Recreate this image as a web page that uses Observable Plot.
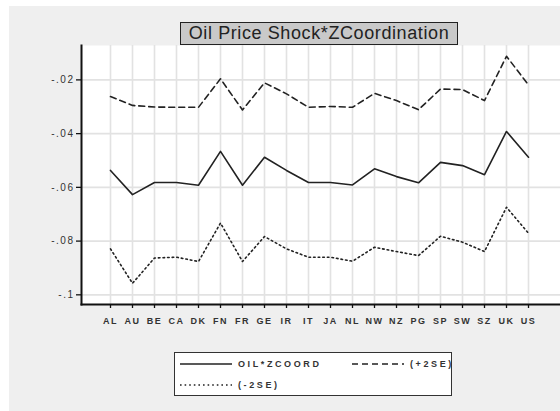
<!DOCTYPE html>
<html>
<head>
<meta charset="utf-8">
<script src="https://cdn.jsdelivr.net/npm/d3@7"></script>
<script src="https://cdn.jsdelivr.net/npm/@observablehq/plot@0.6"></script>
<style>
  html, body { margin:0; padding:0; background:#fff; }
  #wrap { position:relative; width:560px; height:411px; overflow:hidden; font-family:"Liberation Sans", Arial, sans-serif; }
  #panel { position:absolute; left:9px; top:6px; right:0; bottom:0; background:#efefef; }
  #chart { position:absolute; left:0; top:0; }
  #chart svg text { letter-spacing:1.5px; }
  #title { position:absolute; left:180px; top:22px; width:276px; height:21px; background:#c9c9c9; border:1.5px solid #222;
           font-size:18px; line-height:21px; text-align:center; color:#222; letter-spacing:0.6px; white-space:nowrap; }
  #legend { position:absolute; left:174px; top:352px; width:276px; height:42px; border:1.5px solid #333; background:#fff;
            font-size:9px; font-weight:bold; color:#333; letter-spacing:2.6px; }
  .item { position:absolute; display:flex; align-items:center; white-space:nowrap; }
  .item svg { margin-right:6px; }
</style>
</head>
<body>
<div id="wrap">
  <div id="panel"></div>
  <div id="chart"></div>
  <div id="title">Oil Price Shock*ZCoordination</div>
  <div id="legend"></div>
</div>
<script>
const countries = ["AL","AU","BE","CA","DK","FN","FR","GE","IR","IT","JA","NL","NW","NZ","PG","SP","SW","SZ","UK","US"];
const coef  = [-0.0537,-0.0627,-0.0582,-0.0582,-0.0592,-0.0466,-0.0592,-0.0488,-0.0537,-0.0582,-0.0582,-0.0591,-0.0531,-0.0560,-0.0583,-0.0507,-0.0519,-0.0553,-0.0392,-0.0488];
const upper = [-0.0262,-0.0295,-0.0301,-0.0302,-0.0302,-0.0196,-0.0312,-0.0211,-0.0252,-0.0302,-0.0299,-0.0302,-0.0250,-0.0277,-0.0311,-0.0234,-0.0236,-0.0277,-0.0112,-0.0219];
const lower = [-0.0829,-0.0957,-0.0863,-0.0860,-0.0876,-0.0733,-0.0876,-0.0783,-0.0829,-0.0860,-0.0860,-0.0875,-0.0823,-0.0839,-0.0854,-0.0782,-0.0804,-0.0839,-0.0674,-0.0771];
const yTicks = [-0.1,-0.08,-0.06,-0.04,-0.02];
const yLabels = ["-.1","-.08","-.06","-.04","-.02"];
const seriesNames = ["OIL*ZCOORD","(+2SE)","(-2SE)"];

const rows = countries.map((c,i)=>({c, coef:coef[i], upper:upper[i], lower:lower[i]}));
const ink = "#222";

const chart = Plot.plot({
  width:560, height:411,
  marginLeft:81, marginRight:0, marginTop:45, marginBottom:107,
  style:{background:"transparent", fontFamily:"Liberation Sans, Arial, sans-serif", overflow:"visible"},
  x:{type:"point", domain:countries, range:[91,547.3], label:null},
  y:{domain:[-0.1036,-0.0072], label:null},
  marks:[
    Plot.frame({fill:"white", stroke:"none"}),
    Plot.gridX(countries, {stroke:"#e2e2e2", strokeOpacity:1, strokeWidth:1.6}),
    Plot.gridY(yTicks, {stroke:"#e2e2e2", strokeOpacity:1, strokeWidth:1.6}),
    Plot.axisX({label:null, tickSize:4, tickPadding:9, fontSize:9, fontWeight:"bold", fill:"#333", stroke:"#111", strokeWidth:1.3}),
    Plot.axisY(yTicks, {label:null, tickSize:5, tickPadding:2, fontSize:10, fill:"#333", stroke:"#111", strokeWidth:1.3,
      tickFormat:d=>yLabels[yTicks.indexOf(d)]}),
    Plot.frame({anchor:"left", stroke:"#111", strokeWidth:2, strokeOpacity:1}),
    Plot.frame({anchor:"bottom", stroke:"#111", strokeWidth:2, strokeOpacity:1}),
    Plot.line(rows, {x:"c", y:"upper", stroke:ink, strokeWidth:1.6, strokeDasharray:"6,4"}),
    Plot.line(rows, {x:"c", y:"coef", stroke:ink, strokeWidth:1.6}),
    Plot.line(rows, {x:"c", y:"lower", stroke:ink, strokeWidth:1.6, strokeDasharray:"1.6,3"})
  ]
});
document.getElementById("chart").appendChild(chart);

// legend
const legend = document.getElementById("legend");
const items = [
  {name:seriesNames[0], dash:null,    left:5,   top:4},
  {name:seriesNames[1], dash:"6,4",   left:177, top:4},
  {name:seriesNames[2], dash:"1.6,3", left:5,   top:25}
];
items.forEach(it=>{
  const d = document.createElement("div");
  d.className = "item";
  d.style.left = it.left + "px";
  d.style.top = it.top + "px";
  d.style.height = "14px";
  const sw = d3.create("svg").attr("width",52).attr("height",14);
  sw.append("line").attr("x1",0).attr("x2",52).attr("y1",7).attr("y2",7)
    .attr("stroke",ink).attr("stroke-width",1.6).attr("stroke-dasharray",it.dash);
  d.appendChild(sw.node());
  const t = document.createElement("span");
  t.textContent = it.name;
  d.appendChild(t);
  legend.appendChild(d);
});
</script>
</body>
</html>
